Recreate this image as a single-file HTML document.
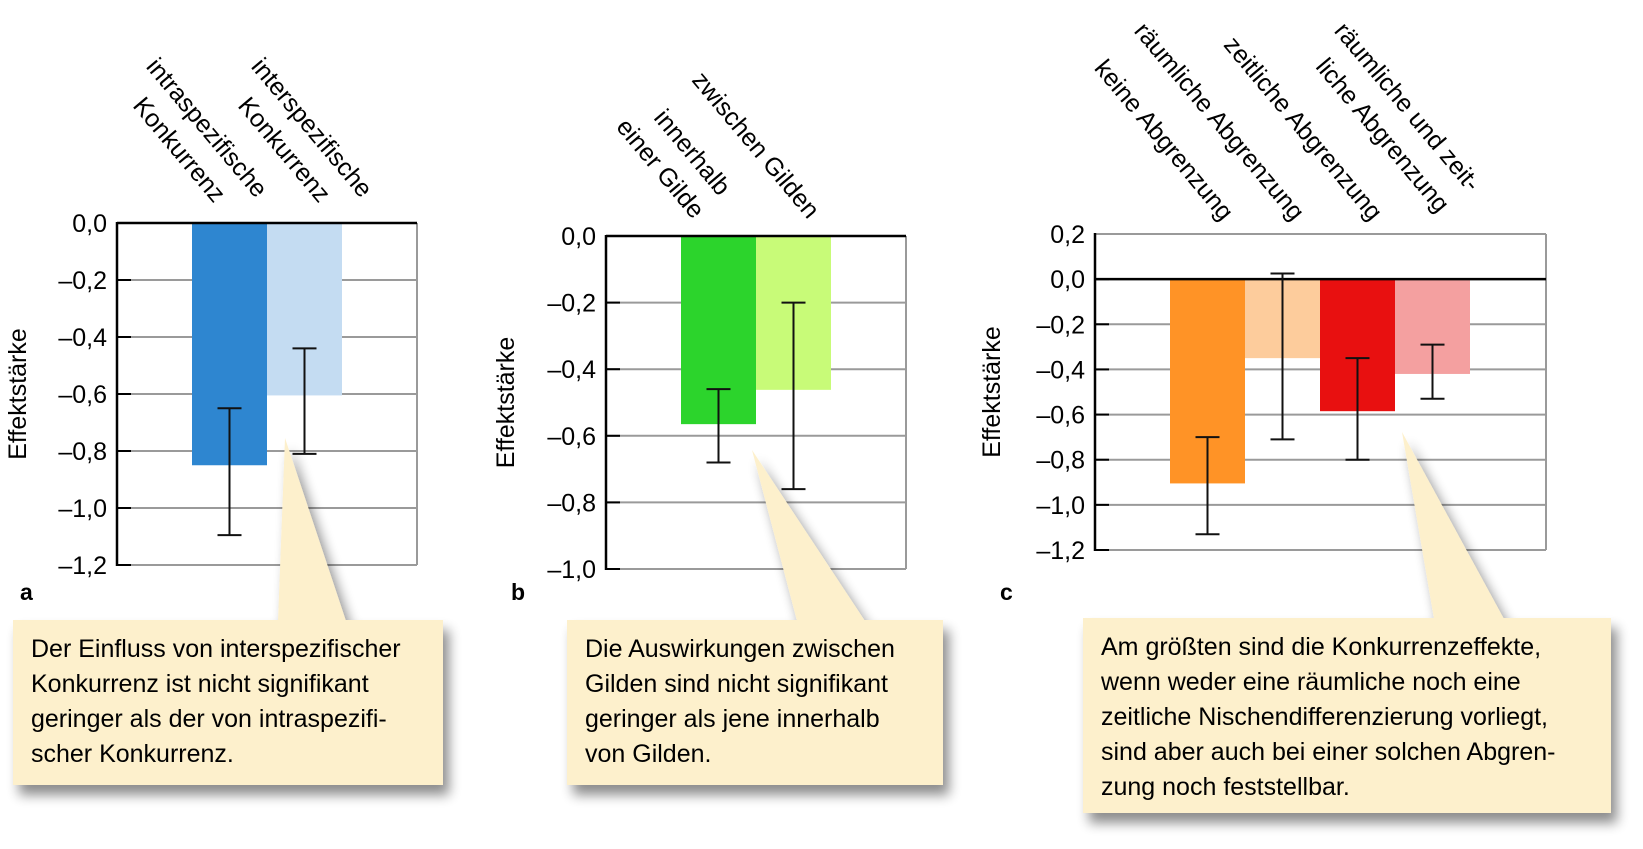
<!DOCTYPE html>
<html><head><meta charset="utf-8"><style>
body{margin:0;background:#fff;width:1643px;height:844px;overflow:hidden}
svg{font-family:"Liberation Sans",sans-serif}
</style></head><body>
<svg id="fig" width="1643" height="844" viewBox="0 0 1643 844">
<defs><filter id="sh" x="-10%" y="-10%" width="130%" height="140%"><feGaussianBlur in="SourceAlpha" stdDeviation="6"/><feOffset dx="6" dy="10"/><feComponentTransfer><feFuncA type="linear" slope="0.45"/></feComponentTransfer><feMerge><feMergeNode/><feMergeNode in="SourceGraphic"/></feMerge></filter></defs>
</svg>
<script>
const catsA=["intraspezifisch","interspezifisch"];
const valsA=[-0.85,-0.605];
const errLoA=[-1.095,-0.81];
const errHiA=[-0.65,-0.44];
const ticksA=[0,-0.2,-0.4,-0.6,-0.8,-1.0,-1.2];
const colorsA=["#2e86d0","#c4dcf2"];

const catsB=["innerhalb","zwischen"];
const valsB=[-0.565,-0.462];
const errLoB=[-0.68,-0.76];
const errHiB=[-0.46,-0.2];
const ticksB=[0,-0.2,-0.4,-0.6,-0.8,-1.0];
const colorsB=["#2cd42c","#c8fb78"];

const catsC=["keine","raeumlich","zeitlich","beide"];
const valsC=[-0.905,-0.35,-0.585,-0.42];
const errLoC=[-1.13,-0.71,-0.80,-0.53];
const errHiC=[-0.70,0.025,-0.35,-0.29];
const ticksC=[0.2,0,-0.2,-0.4,-0.6,-0.8,-1.0,-1.2];
const colorsC=["#ff9326","#fdcc9c","#e81010","#f4a0a0"];

const NS="http://www.w3.org/2000/svg";
const svg=document.getElementById('fig');
function mk(tag,attrs,parent){const e=document.createElementNS(NS,tag);for(const k in attrs)e.setAttribute(k,attrs[k]);(parent||svg).appendChild(e);return e;}
function fmt(v){let s=Math.abs(v).toFixed(1).replace('.',',');return (v<-0.001?'–':'')+s;}

function chart(id,p,cats,vals,lo,hi,ticks,colors){
  const g=mk('g',{});
  
  
  const y=v=>p.top+(p.max-v)/(p.max-p.min)*(p.bottom-p.top);
  ticks.forEach(t=>{
    const gl=mk('line',{x1:p.left,x2:p.right,y1:y(t),y2:y(t),stroke:'#9a9a9a','stroke-width':2},g);
    
    
    const tk=mk('line',{x1:p.left,x2:p.left+14,y1:y(t),y2:y(t),stroke:'#000','stroke-width':2},g);
    
    
    const tl=mk('text',{x:p.left-10,y:y(t)+9,'text-anchor':'end','font-size':25},g);
    tl.textContent=fmt(t);
    
    
  });
  const bw=p.bw;
  vals.forEach((v,i)=>{
    const x=p.x0+i*bw;
    const b=mk('rect',{x:x,y:y(0),width:bw,height:y(v)-y(0),fill:colors[i]},g);
    
    
  });
  mk('line',{x1:p.right,x2:p.right,y1:p.top,y2:p.bottom,stroke:'#9a9a9a','stroke-width':2},g);
  mk('line',{x1:p.left,x2:p.right,y1:y(0),y2:y(0),stroke:'#000','stroke-width':2.5},g);
  if(p.max>0) mk('line',{x1:p.left,x2:p.right,y1:y(p.max),y2:y(p.max),stroke:'#9a9a9a','stroke-width':2},g);
  mk('line',{x1:p.left,x2:p.left,y1:p.top-1,y2:p.bottom+1,stroke:'#000','stroke-width':2.5},g);
  vals.forEach((v,i)=>{
    const cx=p.x0+i*bw+bw/2;
    const e=mk('path',{d:`M${cx-12},${y(hi[i])}H${cx+12}M${cx},${y(hi[i])}V${y(lo[i])}M${cx-12},${y(lo[i])}H${cx+12}`,stroke:'#111','stroke-width':2,fill:'none'},g);
    
    
  });
  const yt=mk('text',{x:0,y:0,'font-size':25,'text-anchor':'middle',transform:`translate(${p.ylx},${(p.top+p.bottom)/2}) rotate(-90)`},g);
  yt.textContent='Effektstärke';
  
  
}
chart('a',{left:117,right:417,top:223,bottom:565,max:0,min:-1.2,x0:192,bw:75,ylx:26},catsA,valsA,errLoA,errHiA,ticksA,colorsA);
chart('b',{left:606,right:906,top:236,bottom:569,max:0,min:-1.0,x0:681,bw:75,ylx:514},catsB,valsB,errLoB,errHiB,ticksB,colorsB);
chart('c',{left:1095,right:1546,top:234,bottom:550,max:0.2,min:-1.2,x0:1170,bw:75,ylx:1000},catsC,valsC,errLoC,errHiC,ticksC,colorsC);

const labels=[
 [250,197,"intraspezifische"],[208,202,"Konkurrenz"],
 [355,197,"interspezifische"],[313,202,"Konkurrenz"],
 [713,195,"innerhalb"],[687,218,"einer Gilde"],[802,218,"zwischen Gilden"],
 [1216,220,"keine Abgrenzung"],[1287,220,"räumliche Abgrenzung"],[1365,220,"zeitliche Abgrenzung"],
 [1463,191,"räumliche und zeit-"],[1432,212,"liche Abgrenzung"]];
labels.forEach(l=>{
  const t=mk('text',{x:0,y:0,'font-size':25,'text-anchor':'end',transform:`translate(${l[0]+6},${l[1]+2}) rotate(50)`});
  t.textContent=l[2];
  
  
});
[[20,'a'],[511,'b'],[1000,'c']].forEach(a=>{
  const t=mk('text',{x:a[0],y:600,'font-size':23,'font-weight':'bold'});
  t.textContent=a[1];
  
  
});
const callouts=[
 {box:[13,620,430,165],tri:[[285,438],[278,621],[346,621]],lines:["Der Einfluss von interspezifischer","Konkurrenz ist nicht signifikant","geringer als der von intraspezifi-","scher Konkurrenz."]},
 {box:[567,620,376,165],tri:[[752,450],[797,621],[865,621]],lines:["Die Auswirkungen zwischen","Gilden sind nicht signifikant","geringer als jene innerhalb","von Gilden."]},
 {box:[1083,618,528,195],tri:[[1402,432],[1434,619],[1504,619]],lines:["Am größten sind die Konkurrenzeffekte,","wenn weder eine räumliche noch eine","zeitliche Nischendifferenzierung vorliegt,","sind aber auch bei einer solchen Abgren-","zung noch feststellbar."]}
];
callouts.forEach((c,i)=>{
  const g=mk('g',{filter:'url(#sh)'});
  
  
  mk('rect',{x:c.box[0],y:c.box[1],width:c.box[2],height:c.box[3],fill:'#fdf0cc'},g);
  mk('polygon',{points:c.tri.map(p=>p.join(',')).join(' '),fill:'#fdf0cc'},g);
  c.lines.forEach((s,j)=>{
    const t=mk('text',{x:c.box[0]+18,y:c.box[1]+37+j*35,'font-size':25},g);
    t.textContent=s;
    
    
  });
});
</script>
</body></html>
